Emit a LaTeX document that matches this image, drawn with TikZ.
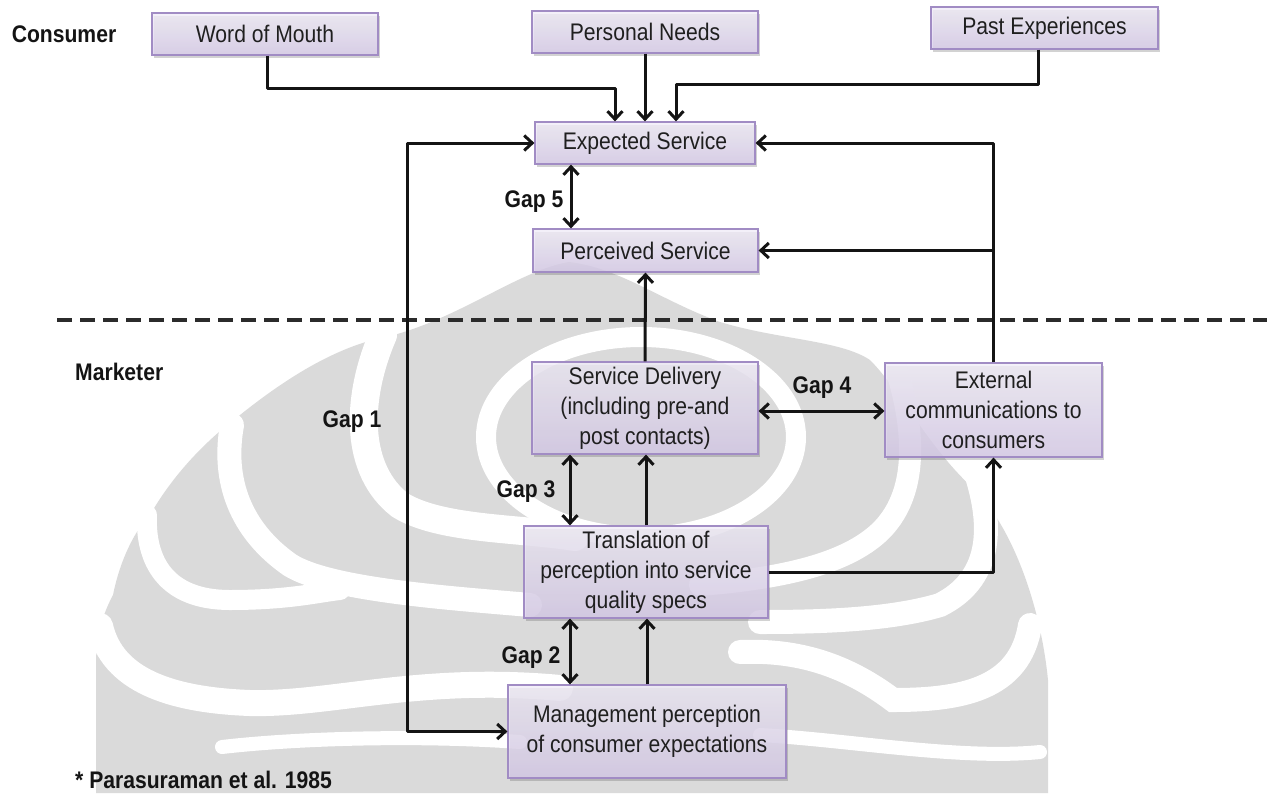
\documentclass[tikz,border=0pt]{standalone}
\usepackage{fontspec}
\setmainfont{Liberation Sans}[FakeStretch=0.88]
\usetikzlibrary{arrows.meta,shadows}

\definecolor{boxline}{HTML}{A18CC4}
\definecolor{boxtop}{HTML}{F1EDF8}
\definecolor{boxbot}{HTML}{D9CDEB}
\definecolor{dashcol}{HTML}{2B2B2B}
\definecolor{emblem}{HTML}{DADADA}

\tikzset{
  box/.style={draw=boxline, line width=1.2pt, top color=boxtop, bottom color=boxbot,
    fill opacity=0.8, text opacity=1,
    drop shadow={shadow xshift=2pt, shadow yshift=-2.5pt, opacity=0.25, fill=black!70},
    align=center, text=black!88, inner sep=2pt,
    font=\fontsize{24}{30}\selectfont},
  lbl/.style={font=\fontsize{24}{30}\selectfont\bfseries, text=black!92, inner sep=0pt},
  conn/.style={line width=3pt, black!92, line join=round},
  arr/.style={conn, -{Straight Barb[length=8pt,width=15pt]}},
  dbl/.style={conn, {Straight Barb[length=8pt,width=15pt]}-{Straight Barb[length=8pt,width=15pt]}},
  band/.style={white, line cap=round},
}

\begin{document}
\begin{tikzpicture}[x=1pt, y=-1pt]
\useasboundingbox (0,0) rectangle (1267,793);

% faint emblem in the background
\begin{scope}
  \clip (0,0) rectangle (1267,793);
  \fill[emblem] (96,793) -- (96,660) .. controls (97,630) and (105,610) .. (113,595)
    .. controls (120,560) and (135,530) .. (150,515)
    .. controls (170,480) and (200,445) .. (240,415)
    .. controls (290,375) and (340,345) .. (390,336)
    .. controls (460,318) and (520,270) .. (569,262)
    .. controls (620,268) and (660,300) .. (720,322)
    .. controls (780,340) and (840,340) .. (870,360)
    .. controls (900,390) and (930,450) .. (975,490)
    .. controls (1010,525) and (1040,600) .. (1048,680)
    -- (1048,793) -- cycle;
  % curved bands, left half
  \draw[band, line width=28pt] (383,335) .. controls (355,400) and (355,470) .. (400,505)
    .. controls (440,530) and (520,528) .. (575,537);
  \draw[band, line width=24pt] (232,425) .. controls (222,480) and (240,530) .. (290,565)
    .. controls (330,590) and (450,598) .. (530,605);
  \draw[band, line width=20pt] (147,515) .. controls (145,560) and (165,600) .. (230,600)
    .. controls (290,600) and (320,592) .. (340,590);
  \draw[band, line width=26pt] (100,626) .. controls (112,680) and (170,700) .. (250,703)
    .. controls (330,705) and (420,675) .. (560,688);
  \draw[band, line width=14pt] (222,747) .. controls (300,738) and (420,735) .. (520,742);
  % curved bands, right half
  \draw[band, line width=22pt] (890,350) .. controls (915,420) and (925,500) .. (870,540)
    .. controls (830,570) and (760,580) .. (700,585);
  \draw[band, line width=24pt] (975,470) .. controls (995,530) and (990,580) .. (940,605)
    .. controls (890,620) and (820,622) .. (760,622);
  \draw[band, line width=24pt] (1030,625) .. controls (1020,690) and (960,700) .. (893,700)
    .. controls (840,660) and (790,650) .. (740,652);
  \draw[band, line width=14pt] (1040,752) .. controls (960,760) and (850,740) .. (760,735);
  % ring in the middle
  \draw[band, line width=20pt] (641,437) ellipse [x radius=155, y radius=100];
\end{scope}

% dividing line between the consumer and marketer sides
\coordinate (dl) at (57,320);
\coordinate (dr) at (1267,320);
\draw[line width=3.5pt, dashcol, dash pattern=on 15pt off 8pt] (dl) -- (dr);

% consumer side
\node[box, minimum width=226pt, minimum height=42pt] (wom)  at (265,34)    {Word of Mouth};
\node[box, minimum width=226pt, minimum height=42pt] (pn)   at (645,32)    {Personal Needs};
\node[box, minimum width=227pt, minimum height=42pt] (pe)   at (1044.5,28) {Past Experiences};
\node[box, minimum width=220pt, minimum height=42pt] (exp)  at (645,143)   {Expected Service};
\node[box, minimum width=225pt, minimum height=43pt] (perc) at (645.5,250.5) {Perceived Service};

% marketer side
\node[box, minimum width=226pt, minimum height=92pt] (sd)  at (645,408)   {Service Delivery\\(including pre-and\\post contacts)};
\node[box, minimum width=217pt, minimum height=94pt] (ext) at (993.5,410) {External\\communications to\\consumers};
\node[box, minimum width=244pt, minimum height=92pt] (tr)  at (646,572)   {Translation of\\perception into service\\quality specs};
\node[box, minimum width=278pt, minimum height=93pt] (mg)  at (647,731.5) {Management perception\\of consumer expectations};

% side and gap labels
\node[lbl] (consumer) at (64,34) {Consumer};
\node[lbl, anchor=west] (marketer) at (75,372) {Marketer};
\node[lbl] (gap1) at (352,422) {Gap 1};
\node[lbl] (gap5) at (534,202) {Gap 5};
\node[lbl] (gap4) at (822,388) {Gap 4};
\node[lbl] (gap3) at (526,492) {Gap 3};
\node[lbl] (gap2) at (531,658) {Gap 2};
\node[lbl, anchor=west] (cite) at (75,780) {* Parasuraman et al. 1985};

% columns used by the vertical connectors
\coordinate (g1x) at (407,400);
\coordinate (gx)  at (570,0);
\coordinate (g5x) at (571,0);
\coordinate (g4y) at (0,411);

% inputs to expected service
\draw[arr] ([xshift=2pt]wom.south) -- ++(0,33) -| ([xshift=-30pt]exp.north);
\draw[arr] (pn.south) -- (exp.north);
\draw[arr] ([xshift=-6pt]pe.south) -- ++(0,35) -| ([xshift=31pt]exp.north);

% gap 1
\draw[dbl] (exp.west) -| (g1x) |- (mg.west);

% gap 5
\draw[dbl] (exp.south -| g5x) -- (perc.north -| g5x);

% external communications feed back to the consumer
\draw[arr] (ext.north) |- (exp.east);
\draw[arr] (ext.north |- perc.east) -- (perc.east);

% delivery chain
\draw[arr] (sd.north) -- (perc.south);
\draw[dbl] (sd.east |- g4y) -- (ext.west |- g4y);
\draw[dbl] (sd.south -| gx) -- (tr.north -| gx);
\draw[arr] (tr.north) -- (tr.north |- sd.south);
\draw[arr] (tr.east) -| (ext.south);
\draw[dbl] (tr.south -| gx) -- (mg.north -| gx);
\draw[arr] (mg.north) -- (mg.north |- tr.south);
\end{tikzpicture}
\end{document}
